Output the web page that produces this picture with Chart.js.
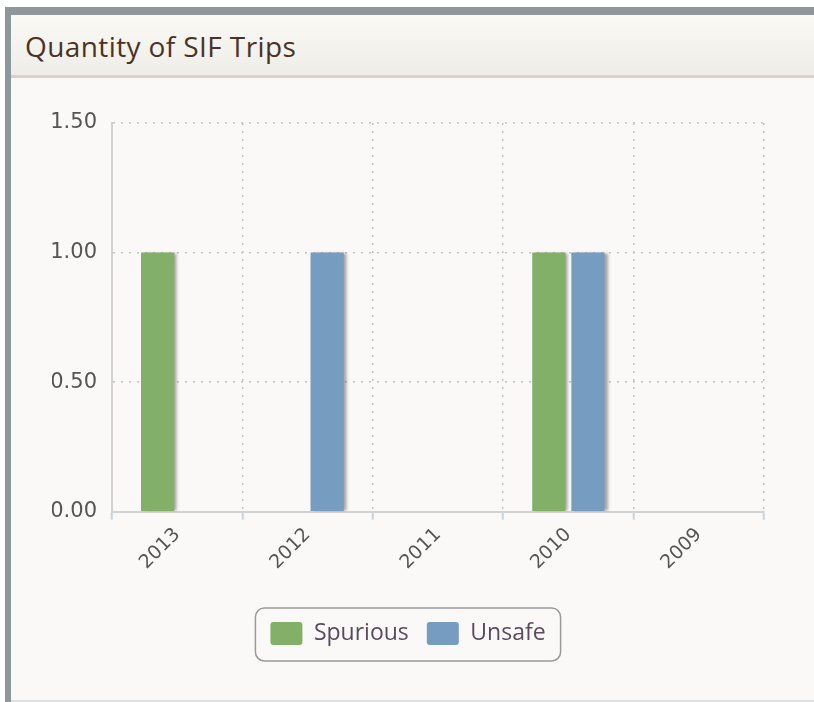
<!DOCTYPE html>
<html>
<head>
<meta charset="utf-8">
<script src="https://cdn.jsdelivr.net/npm/chart.js@4.4.1/dist/chart.umd.min.js"></script>
<style>
  html, body { margin: 0; padding: 0; background: #fff; }
  #frame { position: absolute; left: 0; top: 0; width: 814px; height: 702px; overflow: hidden; }
  #topband { position: absolute; left: 5px; top: 7px; width: 809px; height: 8px; background: #8e979a; }
  #leftband { position: absolute; left: 5px; top: 7px; width: 6px; height: 695px; background: #8e979a; }
  #body { position: absolute; left: 11px; top: 15px; width: 803px; height: 685px; background: #faf9f8; border-bottom: 2px solid #dedede; }
  #header { position: absolute; left: 11px; top: 15px; width: 803px; height: 60px;
    background: linear-gradient(#faf9f4, #efede8); border-bottom: 3px solid #d9d0c6; }
  #title { position: absolute; left: 14px; top: 12px; font-family: "Open Sans", sans-serif;
    font-size: 28px; color: #4b3227; white-space: nowrap; letter-spacing: 0.4px; }
  #wrap { position: absolute; left: 0; top: 0; width: 814px; height: 702px; }
</style>
</head>
<body>
<div id="frame">
  <div id="topband"></div>
  <div id="leftband"></div>
  <div id="body"></div>
  <div id="header"><div id="title">Quantity of SIF Trips</div></div>
  <div id="wrap"><canvas id="sifChart"></canvas></div>
</div>
<script>
// Quantity of SIF trips per year

var years = ['2013', '2012', '2011', '2010', '2009'];
var spurious = [1, 0, 0, 1, 0];
var unsafe = [0, 1, 0, 1, 0];
var yTickValues = [0, 0.5, 1, 1.5];

var green = 'rgb(130, 176, 104)';
var blue = 'rgb(118, 157, 192)';

// soft grey shadow on the right side of each bar
var barShadow = {
	id: 'barShadow',
	beforeDatasetsDraw: function (chart) {
		var ctx = chart.ctx;
		ctx.save();
		ctx.shadowColor = 'rgba(0, 0, 0, 0.35)';
		ctx.shadowOffsetX = 3;
		ctx.shadowOffsetY = 0;
		ctx.shadowBlur = 3;
	},
	afterDatasetsDraw: function (chart) {
		chart.ctx.restore();
	}
};

// rounded frame around the legend items
var legendFrame = {
	id: 'legendFrame',
	afterDraw: function (chart) {
		var boxes = chart.legend.legendHitBoxes;
		if (!boxes || !boxes.length) return;
		var left = Infinity, right = -Infinity, top = Infinity, bottom = -Infinity;
		boxes.forEach(function (b) {
			left = Math.min(left, b.left);
			right = Math.max(right, b.left + b.width);
			top = Math.min(top, b.top);
			bottom = Math.max(bottom, b.top + b.height);
		});
		var ctx = chart.ctx;
		ctx.save();
		ctx.strokeStyle = '#9a9a9a';
		ctx.lineWidth = 1.5;
		ctx.beginPath();
		ctx.roundRect(left - 15, top - 14, right - left + 30, bottom - top + 30, 9);
		ctx.stroke();
		ctx.restore();
	}
};

var ctx = document.getElementById('sifChart');

new Chart(ctx, {
	type: 'bar',
	data: {
		labels: years,
		datasets: [{
			label: 'Spurious',
			data: spurious,
			backgroundColor: green,
			borderWidth: 0
		}, {
			label: 'Unsafe',
			data: unsafe,
			backgroundColor: blue,
			borderWidth: 0
		}]
	},
	options: {
		responsive: true,
		maintainAspectRatio: false,
		animation: false,
		categoryPercentage: 0.6,
		barPercentage: 0.85,
		layout: {
			padding: { left: 52, right: 50, top: 123, bottom: 47 }
		},
		plugins: {
			tooltip: { enabled: false },
			legend: {
				position: 'bottom',
				labels: {
					color: '#5b4a5e',
					font: { family: 'Open Sans', size: 23 },
					boxWidth: 32,
					boxHeight: 23,
					padding: 18,
					useBorderRadius: true,
					borderRadius: 3
				}
			}
		},
		scales: {
			x: {
				afterFit: function (axis) {
					axis.height += 26;
				},
				grid: {
					color: '#c4c4c4',
					lineWidth: 1.5,
					tickColor: '#c6d3e0',
					tickBorderDash: [],
					tickLength: 8,
					tickWidth: 2
				},
				border: { color: '#d2d2d2', width: 2, dash: [2, 6] },
				ticks: {
					color: '#555',
					font: { family: 'DejaVu Sans', size: 19 },
					minRotation: 45,
					maxRotation: 45,
					padding: 4
				}
			},
			y: {
				min: 0,
				max: 1.5,
				afterBuildTicks: function (axis) {
					axis.ticks = yTickValues.map(function (v) { return { value: v }; });
				},
				afterFit: function (axis) {
					axis.width = 60;
				},
				grid: {
					color: function (c) { return c.tick && c.tick.value === 0 ? 'rgba(0,0,0,0)' : '#c4c4c4'; },
					lineWidth: 1.5,
					drawTicks: false
				},
				border: { color: '#d2d2d2', width: 2, dash: [2, 6] },
				ticks: {
					color: '#555',
					font: { family: 'DejaVu Sans', size: 21 },
					padding: 15,
					callback: function (v) { return Number(v).toFixed(2); }
				}
			}
		}
	},
	plugins: [barShadow, legendFrame]
});
</script>
</body>
</html>
